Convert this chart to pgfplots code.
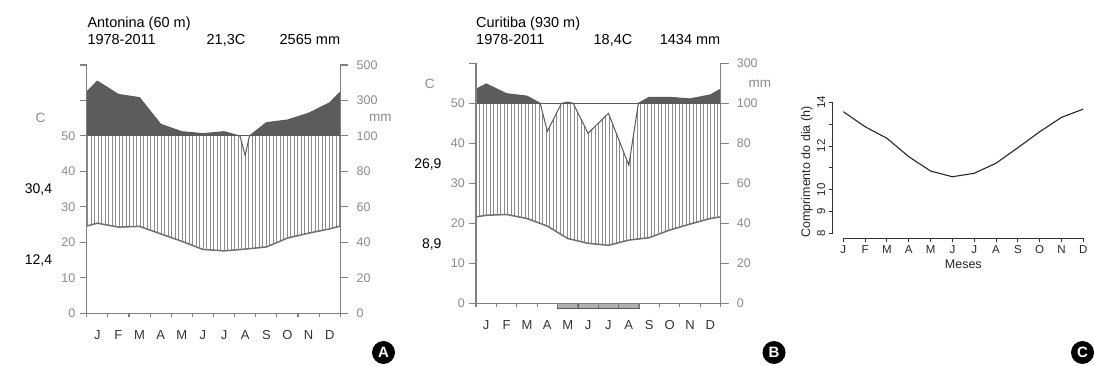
\documentclass[border=0pt]{standalone}
\usepackage{fontspec}
\setmainfont{Liberation Sans}
\usepackage{graphicx}
\usepackage{pgfplots}
\pgfplotsset{compat=1.18}
\usepackage{pgfplotstable}
\usetikzlibrary{patterns.meta}

\definecolor{axisgray}{HTML}{808080}
\definecolor{labgray}{HTML}{8A8A8A}
\definecolor{darkfill}{HTML}{5C5C5C}
\definecolor{lineclr}{HTML}{5A5A5A}
\definecolor{templine}{HTML}{707070}
\definecolor{hatchclr}{HTML}{8C8C8C}
\definecolor{frostclr}{HTML}{B0B0B0}
\definecolor{monthclr}{HTML}{333333}

% Antonina precipitation (mm), month centres + edges + 100 mm crossings
\pgfplotstableread{
x p
0 348
0.5 409
1.5 334
2.5 316
3.5 166
4.5 124
5.5 113
6.5 124
7.25 100
7.5 89
7.7 100
8.5 175
9.5 190
10.5 228
11.5 287
12 348
}\precA
% Antonina temperature (C)
\pgfplotstableread{
x t
0 24.6
0.5 25.4
1.5 24.3
2.5 24.5
3.5 22.4
4.5 20.3
5.5 18.0
6.5 17.6
7.5 18.1
8.5 18.7
9.5 21.2
10.5 22.6
11.5 23.8
12 24.6
}\tempA
% Curitiba precipitation (mm)
\pgfplotstableread{
x p
0 170
0.5 197
1.5 148
2.5 136
3.15 100
3.5 86
4.2 100
4.5 106
4.77 100
5.5 85
6.5 95
7.5 69
7.97 100
8.5 130
9.5 130
10.5 122
11.5 142
12 170
}\precB
% Curitiba temperature (C)
\pgfplotstableread{
x t
0 21.6
0.5 22.0
1.5 22.2
2.5 21.2
3.5 19.3
4.5 16.2
5.5 15.0
6.5 14.5
7.5 15.8
8.5 16.4
9.5 18.3
10.5 19.8
11.5 21.2
12 21.6
}\tempB
% Day length (h)
\pgfplotstableread{
x d
0 13.57
1 12.88
2 12.35
3 11.51
4 10.85
5 10.59
6 10.75
7 11.21
8 11.92
9 12.65
10 13.31
11 13.69
}\dayC

\pgfplotsset{
  wl/.style={
    scale only axis, anchor=south west, clip=false, axis on top,
    xmin=0, xmax=12, ymin=0,
    tick align=outside,
    axis line style={draw=axisgray, line width=1.1pt},
    tick style={draw=axisgray, line width=1.1pt},
    tick label style={font=\fontsize{12.5}{12.5}\selectfont, text=labgray},
  },
  wlleft/.style={
    wl,
    axis x line*=bottom, axis y line*=left,
    xtick={0,...,12}, x tick label as interval,
    xticklabels={J,F,M,A,M,J,J,A,S,O,N,D},
    xticklabel style={text=monthclr, font=\fontsize{13}{13}\selectfont, yshift=-9pt},
    yticklabel style={xshift=-3.5pt},
    xtick style={/pgfplots/major tick length=4pt},
    ytick style={/pgfplots/major tick length=7pt},
  },
  wlright/.style={
    wl, axis x line=none, axis y line*=right, xtick=\empty,
    yticklabel style={xshift=8.5pt},
    ytick style={/pgfplots/major tick length=8pt},
  },
  hatch/.style={draw=none, pattern={Lines[angle=90,distance=3.5pt,line width=0.9pt]}, pattern color=hatchclr},
}

\begin{document}
\begin{tikzpicture}[x=1pt,y=1pt]
\path[use as bounding box] (0,0) rectangle (1094,366);

% ---------------- Panel A: Antonina ----------------
\begin{axis}[wlleft, at={(86.7pt,52.7pt)}, width=253.6pt, height=248.3pt, ymax=70,
  ytick={0,10,...,70}, yticklabels={0,10,20,30,40,50,{},{}}]
\addplot[fill=darkfill, draw=none] table[x=x, y expr={50+max(\thisrow{p}-100,0)/20}] {\precA} \closedcycle;
\addplot[fill=white, draw=none] coordinates {(0,50) (12,50)} \closedcycle;
\addplot[hatch] table[x=x, y expr={min(\thisrow{p},100)/2}] {\precA} \closedcycle;
\addplot[fill=white, draw=none] table[x=x, y=t] {\tempA} \closedcycle;
\addplot[lineclr, line width=1pt] coordinates {(0,50) (12,50)};
\addplot[lineclr, line width=1pt] table[x=x, y expr={min(\thisrow{p},100)/2+max(\thisrow{p}-100,0)/20}] {\precA};
\addplot[templine, line width=1.5pt] table[x=x, y=t] {\tempA};
\end{axis}
\begin{axis}[wlright, at={(86.7pt,52.7pt)}, width=253.6pt, height=248.3pt, ymax=70,
  ytick={0,10,...,70}, yticklabels={0,20,40,60,80,100,300,500}]
\addplot[draw=none] coordinates {(0,0)};
\end{axis}

% ---------------- Panel B: Curitiba ----------------
\begin{axis}[wlleft, at={(476pt,62.7pt)}, width=244.5pt, height=240pt, ymax=60,
  ytick={0,10,...,60}, yticklabels={0,10,20,30,40,50,{}}]
\addplot[fill=darkfill, draw=none] table[x=x, y expr={50+max(\thisrow{p}-100,0)/20}] {\precB} \closedcycle;
\addplot[fill=white, draw=none] coordinates {(0,50) (12,50)} \closedcycle;
\addplot[hatch] table[x=x, y expr={min(\thisrow{p},100)/2}] {\precB} \closedcycle;
\addplot[fill=white, draw=none] table[x=x, y=t] {\tempB} \closedcycle;
\addplot[lineclr, line width=1pt] coordinates {(0,50) (12,50)};
\addplot[lineclr, line width=1pt] table[x=x, y expr={min(\thisrow{p},100)/2+max(\thisrow{p}-100,0)/20}] {\precB};
\addplot[templine, line width=1.5pt] table[x=x, y=t] {\tempB};
\addplot[ybar interval, fill=frostclr, draw=lineclr, line width=0.6pt] coordinates {(4,-1.25) (5,-1.25) (6,-1.25) (7,-1.25) (8,-1.25)};
\end{axis}
\begin{axis}[wlright, at={(476pt,62.7pt)}, width=244.5pt, height=240pt, ymax=60,
  ytick={0,10,...,60}, yticklabels={0,20,40,60,80,100,300}]
\addplot[draw=none] coordinates {(0,0)};
\end{axis}

% ---------------- Panel C: day length ----------------
\begin{axis}[at={(843.3pt,132.7pt)}, anchor=south west, scale only axis,
  width=240pt, height=131pt, xmin=0, xmax=11, ymin=8, ymax=14,
  axis x line*=bottom, axis y line*=left,
  axis x line shift=5pt, axis y line shift=10.6pt,
  axis line style={draw=black!80, line width=0.9pt},
  tick style={draw=black!80, line width=0.9pt},
  tick align=outside, major tick length=4pt,
  xtick={0,...,11}, xticklabels={J,F,M,A,M,J,J,A,S,O,N,D},
  ytick={8,...,14}, yticklabels={8,9,10,{},12,{},14},
  tick label style={font=\fontsize{11.5}{11.5}\selectfont, text=black!85},
  yticklabel style={rotate=90, anchor=south},
]
\addplot[black!85, line width=1.1pt] table[x=x, y=d] {\dayC};
\end{axis}

% ---------------- texts ----------------
\begin{scope}[every node/.style={inner sep=0pt, font=\fontsize{14.5}{14.5}\selectfont}]
\node[anchor=base west] at (87.3,338.3) {Antonina (60 m)};
\node[anchor=base west] at (87.3,321.7) {1978-2011};
\node[anchor=base] at (226,321.7) {21,3C};
\node[anchor=base east] at (340.3,321.7) {2565 mm};
\node[anchor=base west] at (476,338.3) {Curitiba (930 m)};
\node[anchor=base west] at (476,321.7) {1978-2011};
\node[anchor=base] at (613,321.7) {18,4C};
\node[anchor=base east] at (720.5,321.7) {1434 mm};
\end{scope}
\begin{scope}[every node/.style={inner sep=0pt, font=\fontsize{14}{14}\selectfont}]
\node[anchor=east] at (52.3,176) {30,4};
\node[anchor=east] at (52.3,105) {12,4};
\node[anchor=east] at (441.7,201) {26,9};
\node[anchor=east] at (441.7,121.7) {8,9};
\end{scope}
\begin{scope}[every node/.style={inner sep=0pt, text=labgray, font=\fontsize{13.5}{13.5}\selectfont}]
\node at (40.5,248) {C};
\node[anchor=west] at (368.8,248) {mm};
\node at (429.7,282.2) {C};
\node[anchor=west] at (748.5,282.2) {mm};
\end{scope}
\node[rotate=90, inner sep=0pt, font=\fontsize{12.5}{12.5}\selectfont, text=black!85] at (807,194) {Comprimento do dia (h)};
\node[inner sep=0pt, font=\fontsize{12.5}{12.5}\selectfont, text=black!85] at (963.3,102) {Meses};

\begin{scope}[every node/.style={circle, fill=black, minimum size=23pt, inner sep=0pt, text=white, font=\bfseries\fontsize{15}{15}\selectfont}]
\node at (383.5,13.5) {A};
\node at (774,13.5) {B};
\node at (1082.5,13.5) {C};
\end{scope}
\end{tikzpicture}
\end{document}
